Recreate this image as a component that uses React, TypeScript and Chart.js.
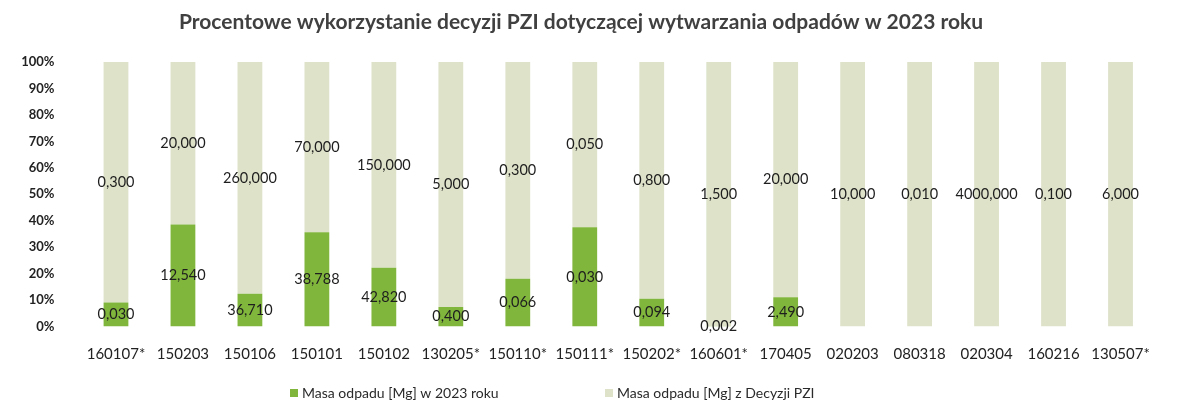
import React, { useEffect, useRef } from "react";
import { Chart, registerables } from "chart.js";

Chart.register(...registerables);

const categories = [
  "160107*", "150203", "150106", "150101", "150102", "130205*", "150110*", "150111*",
  "150202*", "160601*", "170405", "020203", "080318", "020304", "160216", "130507*",
];
// Masa odpadu [Mg] w 2023 roku
const used2023 = [0.03, 12.54, 36.71, 38.788, 42.82, 0.4, 0.066, 0.03, 0.094, 0.002, 2.49, 0, 0, 0, 0, 0];
// Masa odpadu [Mg] z Decyzji PZI
const permitted = [0.3, 20, 260, 70, 150, 5, 0.3, 0.05, 0.8, 1.5, 20, 10, 0.01, 4000, 0.1, 6];
const yTicks = [0, 10, 20, 30, 40, 50, 60, 70, 80, 90, 100];

const seriesNames = ["Masa odpadu [Mg] w 2023 roku", "Masa odpadu [Mg] z Decyzji PZI"];
const title = "Procentowe wykorzystanie decyzji PZI dotyczącej wytwarzania odpadów w 2023 roku";

const GREEN = "#80b63c";
const LIGHT = "#dde2c8";
const FONT = "Lato, 'Open Sans', sans-serif";

const fmt = (v: number) => v.toFixed(3).replace(".", ",");

export default function App() {
  const ref = useRef<HTMLCanvasElement>(null);
  useEffect(() => {
    const totals = used2023.map((u, i) => u + permitted[i]);
    const usedPct = used2023.map((u, i) => (u / totals[i]) * 100);
    const permPct = permitted.map((p, i) => (p / totals[i]) * 100);
    const raw = [used2023, permitted];

    const labelPlugin = {
      id: "valueLabels",
      afterDatasetsDraw(chart: any) {
        const ctx = chart.ctx;
        ctx.save();
        ctx.font = `14.5px ${FONT}`;
        ctx.fillStyle = "#1e1e1e";
        ctx.textAlign = "center";
        ctx.textBaseline = "middle";
        chart.data.datasets.forEach((ds: any, di: number) => {
          const meta = chart.getDatasetMeta(di);
          meta.data.forEach((el: any, i: number) => {
            const v = raw[di][i];
            if (!v) return;
            const y = (el.y + el.base) / 2;
            ctx.fillText(fmt(v), el.x, y);
          });
        });
        ctx.restore();
      },
    };

    const legendPlugin = {
      id: "customLegend",
      afterDraw(chart: any) {
        const ctx = chart.ctx;
        ctx.save();
        ctx.font = `14px ${FONT}`;
        ctx.textBaseline = "middle";
        const y = 393;
        const xs = [290, 605];
        chart.data.datasets.forEach((ds: any, i: number) => {
          ctx.fillStyle = ds.backgroundColor;
          ctx.fillRect(xs[i], y - 4, 8, 8);
          ctx.fillStyle = "#2a2a2a";
          ctx.fillText(ds.label, xs[i] + 12, y);
        });
        ctx.restore();
      },
    };

    const chart = new Chart(ref.current!, {
      type: "bar",
      data: {
        labels: categories,
        datasets: [
          { label: seriesNames[0], data: usedPct, backgroundColor: GREEN },
          { label: seriesNames[1], data: permPct, backgroundColor: LIGHT },
        ],
      },
      options: {
        animation: false,
        responsive: true,
        maintainAspectRatio: false,
        layout: { padding: { left: 8, right: 23, top: 8, bottom: 41.5 } },
        datasets: { bar: { categoryPercentage: 1, barPercentage: 0.37 } },
        plugins: {
          legend: { display: false },
          tooltip: { enabled: false },
          title: {
            display: true,
            text: title,
            color: "#404040",
            font: { family: FONT, size: 21, weight: "bold" },
            padding: { top: 1.5, bottom: 27.3 },
          },
        },
        scales: {
          x: {
            stacked: true,
            grid: { display: false },
            border: { display: false },
            ticks: {
              color: "#222",
              font: { family: FONT, size: 15 },
              padding: 10.5,
              maxRotation: 0,
              autoSkip: false,
            },
          },
          y: {
            stacked: true,
            min: 0,
            max: 100,
            grid: { display: false },
            border: { display: false },
            afterFit: (s: any) => { s.width = 74.5; },
            afterBuildTicks: (s: any) => { s.ticks = yTicks.map((v) => ({ value: v })); },
            ticks: {
              color: "#222",
              font: { family: FONT, size: 13, weight: "bold" },
              padding: 20,
              callback: (v: any) => `${v}%`,
            },
          },
        },
      },
      plugins: [labelPlugin, legendPlugin],
    });
    return () => chart.destroy();
  }, []);

  return (
    <div style={{ position: "fixed", left: 0, top: 0, width: 1177, height: 415, background: "#fff" }}>
      <canvas ref={ref} />
    </div>
  );
}
